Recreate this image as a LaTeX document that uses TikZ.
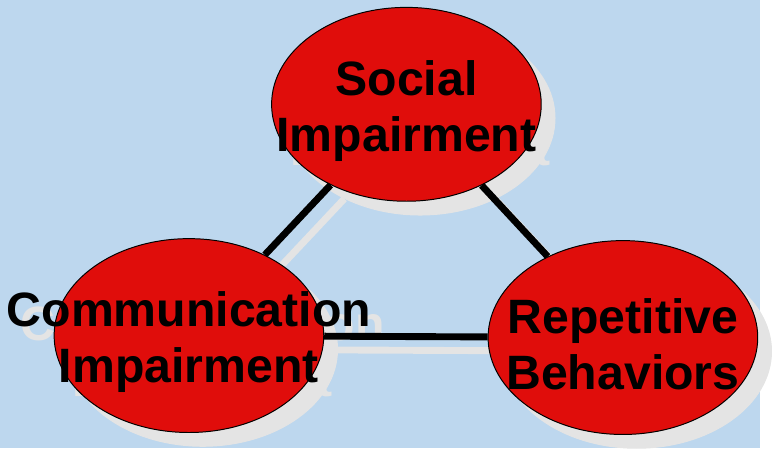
\documentclass[tikz,border=0pt]{standalone}
\usepackage{fontspec}
\setmainfont{Liberation Sans}
\usepackage{xcolor}
\usetikzlibrary{shapes.geometric}

\definecolor{backdrop}{RGB}{189,215,238}
\definecolor{bubblered}{RGB}{224,13,11}
\definecolor{ghostgray}{RGB}{228,228,228}

\begin{document}
\begin{tikzpicture}[x=1pt,y=-1pt,
    bubble/.style={ellipse, minimum width=274pt, minimum height=197pt, inner sep=0pt, line width=1pt},
    caption/.style={align=center, yshift=-7pt, font=\fontsize{49}{57}\selectfont\bfseries},
    link/.style={line width=7pt}]
\fill[backdrop] (0,0) rectangle (772,455);
% shadow copy first, then the real one
\foreach \off/\ink/\paint/\rim in {14/ghostgray/ghostgray/ghostgray, 0/black/bubblered/black} {
  \begin{scope}[shift={(\off,\off)}]
    \node [bubble, fill=\paint, draw=\rim] (social) at (413,106) {};
    \node [bubble, fill=\paint, draw=\rim] (comm) at (192,341) {};
    \node [bubble, fill=\paint, draw=\rim] (rep) at (633,343) {};
    \draw [link, draw=\ink] (social) -- (comm);
    \draw [link, draw=\ink] (social) -- (rep);
    \draw [link, draw=\ink] (comm) -- (rep);
    \node [caption, text=\ink] (socialtext) at (social) {Social\\Impairment};
    \node [caption, text=\ink] (commtext) at (comm) {Communication\\Impairment};
    \node [caption, text=\ink] (reptext) at (rep) {Repetitive\\Behaviors};
  \end{scope}
}
\end{tikzpicture}
\end{document}
